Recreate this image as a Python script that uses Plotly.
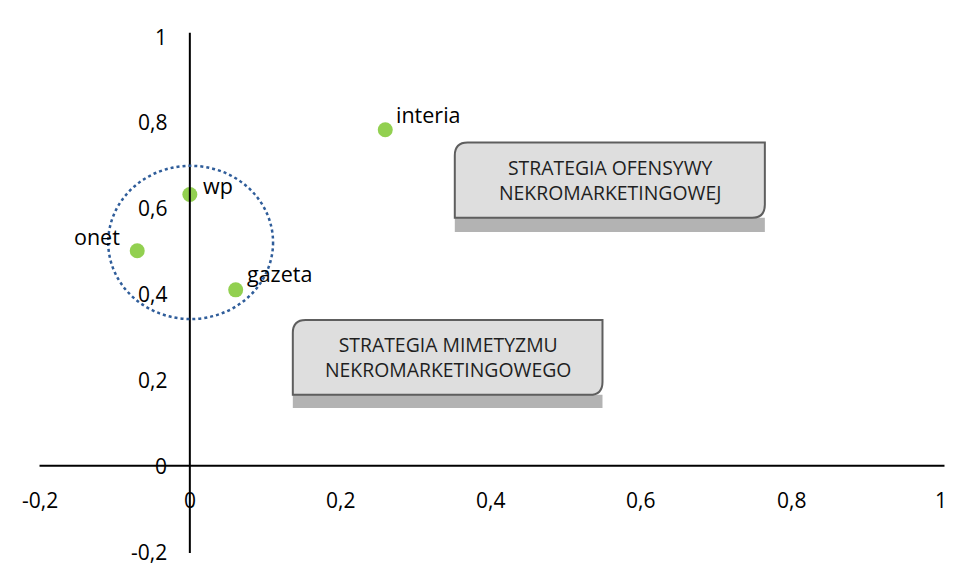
import plotly.graph_objects as go

# ---- data ----
names = ["interia", "wp", "onet", "gazeta"]
x_vals = [0.26, 0.0, -0.07, 0.061]
y_vals = [0.783, 0.632, 0.501, 0.41]

x_ticks = [-0.2, 0, 0.2, 0.4, 0.6, 0.8, 1]
x_tick_labels = ["-0,2", "0", "0,2", "0,4", "0,6", "0,8", "1"]
y_ticks = [-0.2, 0, 0.2, 0.4, 0.6, 0.8, 1]
y_tick_labels = ["-0,2", "0", "0,2", "0,4", "0,6", "0,8", "1"]

box_texts = ["STRATEGIA OFENSYWY<br>NEKROMARKETINGOWEJ",
             "STRATEGIA MIMETYZMU<br>NEKROMARKETINGOWEGO"]
box_x0 = [0.3525, 0.137]
box_x1 = [0.765, 0.549]
box_ytop = [0.753, 0.340]
box_ybot = [0.578, 0.1655]
box_shadow = [0.545, 0.135]

circle_x = [-0.1086, 0.1107]
circle_y = [0.342, 0.699]

FONT = "Open Sans"

fig = go.Figure()

fig.add_trace(go.Scatter(
    x=x_vals, y=y_vals, mode="markers",
    marker=dict(color="#92D050", size=15, line=dict(width=0)),
    showlegend=False, hoverinfo="text", text=names,
))

shapes = []
# axes
shapes.append(dict(type="line", xref="x", yref="y", x0=-0.2, x1=1.004, y0=0, y1=0,
                   line=dict(color="black", width=2)))
shapes.append(dict(type="line", xref="x", yref="y", x0=0, x1=0, y0=-0.203, y1=1.009,
                   line=dict(color="black", width=2)))
# circle
shapes.append(dict(type="circle", xref="x", yref="y", x0=circle_x[0], x1=circle_x[1],
                   y0=circle_y[0], y1=circle_y[1],
                   line=dict(color="#2F5D9A", width=2.5, dash="dot")))

rx, ry = 0.017, 0.03
for i in range(2):
    x0, x1, yt, yb, ys = box_x0[i], box_x1[i], box_ytop[i], box_ybot[i], box_shadow[i]
    # shadow
    shapes.append(dict(type="rect", xref="x", yref="y", x0=x0, x1=x1, y0=ys, y1=yb,
                       fillcolor="#B3B3B3", line=dict(width=0), layer="below"))
    # box with rounded top-left and bottom-right corners
    path = (f"M {x0} {yt - ry} Q {x0} {yt} {x0 + rx} {yt} "
            f"L {x1} {yt} L {x1} {yb + ry} Q {x1} {yb} {x1 - rx} {yb} "
            f"L {x0} {yb} Z")
    shapes.append(dict(type="path", xref="x", yref="y", path=path,
                       fillcolor="#DEDEDE", line=dict(color="#5E5E5E", width=2)))

annotations = []
for i in range(2):
    annotations.append(dict(x=(box_x0[i] + box_x1[i]) / 2, y=(box_ytop[i] + box_ybot[i]) / 2,
                            xref="x", yref="y", text=box_texts[i], showarrow=False,
                            font=dict(family=FONT, size=19.4, color="#1f1f1f"), align="center"))

# point labels
label_pos = {"interia": (9, 15), "wp": (11, 9), "onet": (-15, 14), "gazeta": (9, 16)}
for n, xv, yv in zip(names, x_vals, y_vals):
    dx, dy = label_pos[n]
    annotations.append(dict(x=xv, y=yv, xref="x", yref="y", text=n, showarrow=False,
                            xanchor="right" if dx < 0 else "left", yanchor="middle",
                            xshift=dx, yshift=dy,
                            font=dict(family=FONT, size=21.5, color="black")))

# tick labels
for v, t in zip(x_ticks, x_tick_labels):
    annotations.append(dict(x=v, y=0, xref="x", yref="y", text=t, showarrow=False,
                            xanchor="center", yanchor="middle", yshift=-34,
                            font=dict(family=FONT, size=21, color="black")))
for v, t in zip(y_ticks, y_tick_labels):
    annotations.append(dict(x=0, y=v, xref="x", yref="y", text=t, showarrow=False,
                            xanchor="right", yanchor="middle", xshift=-21,
                            font=dict(family=FONT, size=21, color="black")))

fig.update_layout(
    width=954, height=571,
    margin=dict(l=24, r=13, t=20, b=23),
    paper_bgcolor="white", plot_bgcolor="white",
    xaxis=dict(range=[-0.21, 1.01], visible=False),
    yaxis=dict(range=[-0.21, 1.02], visible=False),
    shapes=shapes, annotations=annotations,
    showlegend=False,
)

fig.write_html("out.html")
